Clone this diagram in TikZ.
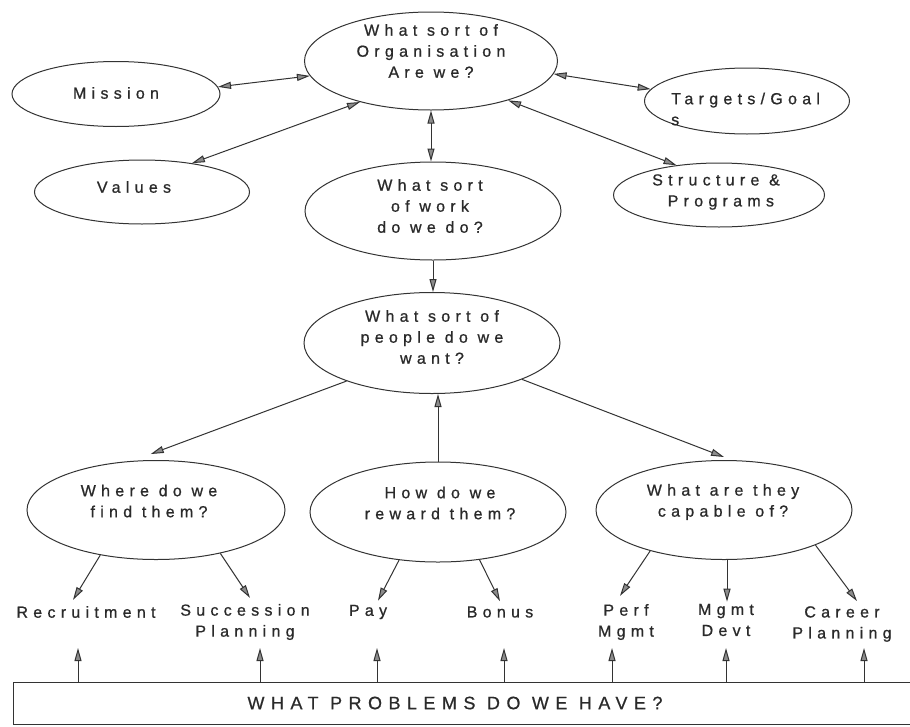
\documentclass[tikz,border=0pt]{standalone}
\usepackage{fontspec}
\setmainfont{Liberation Sans}
\newfontfamily\spaced[LetterSpace=33,FakeBold=0.8]{Liberation Sans}
\newfontfamily\bigspaced[LetterSpace=36,FakeBold=0.6]{Liberation Sans}
\usetikzlibrary{arrows.meta,shapes.geometric}
\definecolor{ink}{HTML}{333333}
\definecolor{txtink}{HTML}{2A2A2A}
\definecolor{tipfill}{HTML}{8C8C8C}
\tikzset{
  oval/.style={ellipse, draw=ink, line width=1pt, inner sep=0pt},
  txt/.style={align=center, font=\spaced\fontsize{16}{21}\selectfont, text=txtink, inner sep=0pt},
  arr/.style={draw=ink, line width=1pt, -{Triangle[length=13pt,width=7pt,fill=tipfill]}},
  darr/.style={draw=ink, line width=1pt, {Triangle[length=13pt,width=7pt,fill=tipfill]}-{Triangle[length=13pt,width=7pt,fill=tipfill]}},
}
\begin{document}
\begin{tikzpicture}[x=1pt,y=-1pt]
\useasboundingbox[fill=white] (0,0) rectangle (910,726);

% ellipses
\node[oval, minimum width=253pt, minimum height=98pt] (top) at (431,61) {};
\node[oval, minimum width=208pt, minimum height=65pt] (mission) at (116,94) {};
\node[oval, minimum width=215pt, minimum height=64pt] (values) at (142,192) {};
\node[oval, minimum width=205pt, minimum height=66pt] (targets) at (747,101) {};
\node[oval, minimum width=211pt, minimum height=64pt] (structure) at (719,195) {};
\node[oval, minimum width=256pt, minimum height=98pt] (work) at (433,211) {};
\node[oval, minimum width=256pt, minimum height=101pt] (people) at (432,343) {};
\node[oval, minimum width=258pt, minimum height=99pt] (where) at (156,510) {};
\node[oval, minimum width=256pt, minimum height=100pt] (reward) at (438,512) {};
\node[oval, minimum width=256pt, minimum height=99pt] (capable) at (724,510) {};

% ellipse texts
\node[txt] (topT) at (431,51) {What sort of\\Organisation\\Are we?};
\node[txt] (missionT) at (116,93) {Mission};
\node[txt] (valuesT) at (134,187) {Values};
\node[txt, align=left, anchor=west] (targetsT) at (671,109) {Targets/Goal\\s};
\node[txt] (structureT) at (716,192) {Structure \&\\\ Programs};
\node[txt] (workT) at (430,206) {What sort\\of work\\do we do?};
\node[txt] (peopleT) at (432,337) {What sort of\\people do we\\want?};
\node[txt] (whereT) at (149,501) {Where do we\\find them?};
\node[txt] (rewardT) at (440,503) {How do we\\reward them?};
\node[txt] (capableT) at (723,502) {What are they\\capable of?};

% bottom labels
\node[txt] (rec) at (86,612) {Recruitment};
\node[txt] (succ) at (245,622) {Succession\\Planning};
\node[txt] (pay) at (368,612) {Pay};
\node[txt] (bonus) at (500,612) {Bonus};
\node[txt] (perf) at (626,622) {Perf\\Mgmt};
\node[txt] (mgmt) at (726,620) {Mgmt\\Devt};
\node[txt] (career) at (842,624) {Career\\Planning};

% problems box
\node[draw=ink, line width=1pt, minimum width=902pt, minimum height=42pt, inner sep=0pt] (box) at (464,703) {};
\node[txt, font=\bigspaced\fontsize{18}{20}\selectfont] (boxT) at (455,703) {WHAT PROBLEMS DO WE HAVE?};

% double arrows around the top ellipse
\draw[darr] (mission.4) -- (top.187.5);
\draw[darr] (values.30) -- (top.210.6);
\draw[darr] (top.354) -- (targets.173.5);
\draw[darr] (top.333) -- (structure.145.7);
\draw[darr] (top.south) -- (top.south |- work.north);

% main flow
\draw[arr] (work.south) -- (work.south |- people.north);
\draw[arr] (people.204.7) -- ([yshift=6pt]where.96);
\draw[arr] (reward.north) -- (reward.north |- people.south);
\draw[arr] (people.338) -- ([yshift=3pt]capable.north);

% to bottom labels
\draw[arr] (where.219) -- ([xshift=-13pt,yshift=6pt]rec.north);
\draw[arr] (where.326) -- ([xshift=5pt,yshift=6pt]succ.north);
\draw[arr] (reward.231.6) -- ([xshift=10pt,yshift=4pt]pay.north);
\draw[arr] (reward.311) -- ([yshift=5pt]bonus.north);
\draw[arr] (capable.209.2) -- ([xshift=-6pt,yshift=8pt]perf.north);
\draw[arr] ([xshift=3pt]capable.south) -- ([xshift=1pt,yshift=2pt]mgmt.north);
\draw[arr] (capable.339.6) -- ([xshift=15pt,yshift=5pt]career.north);

% up arrows from the problems box
\coordinate (u1) at (78,648);
\coordinate (u2) at (260,648);
\coordinate (u3) at (377,648);
\coordinate (u4) at (504,648);
\coordinate (u5) at (612,648);
\coordinate (u6) at (726,648);
\coordinate (u7) at (864,648);
\foreach \u in {u1,u2,u3,u4,u5,u6,u7}
  \draw[arr] (box.north -| \u) -- (\u);
\end{tikzpicture}
\end{document}
